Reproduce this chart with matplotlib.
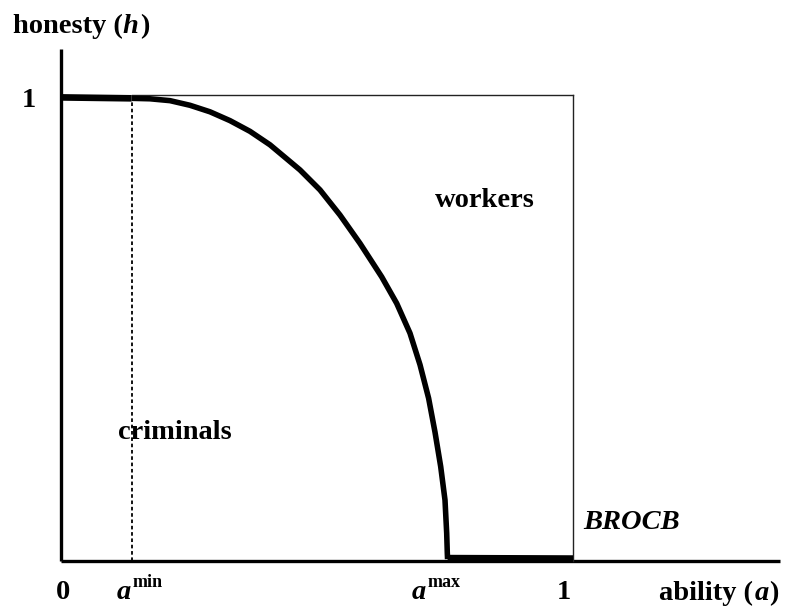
import matplotlib
matplotlib.use("Agg")
import matplotlib.pyplot as plt

# ---- data ----
a_min = 0.138
a_max = 0.755
curve_a = [0.138, 0.1738, 0.2129, 0.2520, 0.2910, 0.3301, 0.3691, 0.4082, 0.4408,
           0.4668, 0.5059, 0.5449, 0.5840, 0.6264, 0.6557, 0.6816, 0.7012, 0.7180,
           0.7305, 0.7416, 0.7500, 0.7533, 0.7545, 0.755]
curve_h = [0.995, 0.994, 0.990, 0.980, 0.966, 0.947, 0.924, 0.895, 0.865,
           0.841, 0.798, 0.744, 0.683, 0.611, 0.554, 0.490, 0.422, 0.350,
           0.277, 0.203, 0.131, 0.060, 0.017, 0.004]
left_a = [0.0, a_min]
left_h = [0.997, 0.995]
bottom_a = [a_max, 1.0]
bottom_h = [0.0065, 0.0055]
x_tick_labels = ["0", "1"]
y_tick_labels = ["1"]

W, H = 786, 610
fig = plt.figure(figsize=(W / 100, H / 100), dpi=100)
ax = fig.add_axes([0, 0, 1, 1])
# pixel mapping: a=0 -> x=61, a=1 -> x=573 ; h=0 -> y=561, h=1 -> y=96 (from top)
x0, sx = 61.0, 512.0
y0, sy = 561.0, 465.0
ax.set_xlim(-x0 / sx, (W - x0) / sx)
ax.set_ylim(-(H - y0) / sy, y0 / sy)
ax.axis("off")

serif = ["Liberation Serif", "DejaVu Serif"]

# axes
ax.plot([0, 0], [0, (y0 - 49) / sy], color="black", lw=2.4, solid_capstyle="butt")
ax.plot([0, (780 - x0) / sx], [0, 0], color="black", lw=2.4, solid_capstyle="butt")

# box (thin)
ax.plot([a_min, 1.0], [1.003, 1.003], color="#222222", lw=1.0)
ax.plot([1.0, 1.0], [0.0, 1.003], color="#222222", lw=1.0)

# dotted a_min line
ax.plot([a_min, a_min], [0.0, 0.992], color="black", lw=1.3, linestyle=(0, (2, 1.5)))

# BROCB curve
ax.plot(left_a, left_h, color="black", lw=4.8, solid_capstyle="butt")
ax.plot(curve_a, curve_h, color="black", lw=4.0, solid_capstyle="butt", solid_joinstyle="round")
ax.plot(bottom_a, bottom_h, color="black", lw=4.6, solid_capstyle="butt")


def px(x, y):
    return x / W, 1 - y / H


fs = 20.5
fs_sup = 13
# axis titles
t = fig.text(*px(13, 33), "honesty (", fontsize=fs, fontweight="bold", family=serif,
             ha="left", va="baseline")
fig.canvas.draw()
r = fig.canvas.get_renderer()
bb = t.get_window_extent(r)
xh = bb.x1
th = fig.text(xh / W, 1 - 33 / H, "h", fontsize=fs, fontweight="bold", style="italic",
              family=serif, ha="left", va="baseline")
bb2 = th.get_window_extent(r)
fig.text((bb2.x1 + 1) / W, 1 - 33 / H, ")", fontsize=fs, fontweight="bold",
         family=serif, ha="left", va="baseline")

tp = fig.text(*px(779, 600), ")", fontsize=fs, fontweight="bold", family=serif,
              ha="right", va="baseline")
fig.canvas.draw()
bp = tp.get_window_extent(r)
ta = fig.text((bp.x0 - 1) / W, 1 - 600 / H, "a", fontsize=fs, fontweight="bold",
              style="italic", family=serif, ha="right", va="baseline")
fig.canvas.draw()
ba = ta.get_window_extent(r)
fig.text((ba.x0 - 1) / W, 1 - 600 / H, "ability (", fontsize=fs, fontweight="bold",
         family=serif, ha="right", va="baseline")

# tick labels
fig.text(*px(29, 107), y_tick_labels[0], fontsize=fs, fontweight="bold", family=serif,
         ha="center", va="baseline")
fig.text(*px(63, 599), x_tick_labels[0], fontsize=fs, fontweight="bold", family=serif,
         ha="center", va="baseline")
fig.text(*px(564, 599), x_tick_labels[1], fontsize=fs, fontweight="bold", family=serif,
         ha="center", va="baseline")

# a^min, a^max
fig.text(*px(117, 599), "a", fontsize=fs, fontweight="bold", style="italic",
         family=serif, ha="left", va="baseline")
fig.text(*px(133, 587), "min", fontsize=fs_sup, fontweight="bold", family=serif,
         ha="left", va="baseline")
fig.text(*px(412, 599), "a", fontsize=fs, fontweight="bold", style="italic",
         family=serif, ha="left", va="baseline")
fig.text(*px(428, 587), "max", fontsize=fs_sup, fontweight="bold", family=serif,
         ha="left", va="baseline")

# region labels
fig.text(*px(485, 207), "workers", fontsize=fs, fontweight="bold", family=serif,
         ha="center", va="baseline")
fig.text(*px(175, 439), "criminals", fontsize=fs, fontweight="bold", family=serif,
         ha="center", va="baseline")
fig.text(*px(583, 529), "BROCB", fontsize=fs, fontweight="bold", style="italic",
         family=serif, ha="left", va="baseline")

fig.savefig("out.png", dpi=100, facecolor="white")
